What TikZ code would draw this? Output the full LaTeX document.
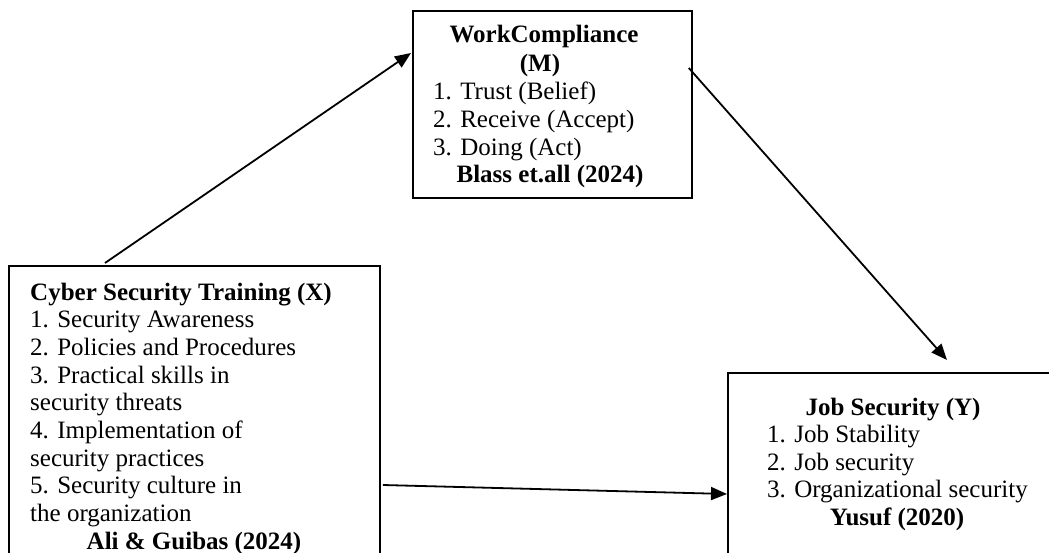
\documentclass[tikz,border=0pt]{standalone}
\usepackage{fontspec}
\setmainfont{Liberation Serif}
\usetikzlibrary{arrows.meta,calc}
\begin{document}
\begin{tikzpicture}[x=1pt,y=-1pt,
  box/.style={draw,line width=1.8pt,inner sep=0pt,anchor=north west},
  txt/.style={inner sep=0pt,font=\fontsize{25}{27.7}\selectfont},
  ttl/.style={txt,font=\fontsize{25}{27.7}\selectfont\bfseries},
  arr/.style={line width=1.8pt,-{Triangle[length=16pt,width=13pt]}}]
\useasboundingbox (0,0) rectangle (1049,553);
\clip (0,0) rectangle (1049,553);
% boxes
\node[box,minimum width=279pt,minimum height=187pt] (M) at (412,10) {};
\node[box,minimum width=371pt,minimum height=310pt] (X) at (8,265) {};
\node[box,minimum width=345pt,minimum height=220pt] (Y) at (727,372) {};
% box M text
\node[ttl,anchor=base] (m0) at (544,43) {WorkCompliance};
\node[ttl,anchor=base] (m1) at (540,72) {(M)};
\node[txt,anchor=base west] (m2) at (433,100) {1. Trust (Belief)};
\node[txt,anchor=base west] (m3) at (433,128) {2. Receive (Accept)};
\node[txt,anchor=base west] (m4) at (433,156) {3. Doing (Act)};
\node[ttl,anchor=base] (m5) at (550,183) {Blass et.all (2024)};
% box X text
\node[ttl,anchor=base west] (x0) at (30,300) {Cyber Security Training (X)};
\node[txt,anchor=base west] (x1) at (30,327.7) {1. Security Awareness};
\node[txt,anchor=base west] (x2) at (30,355.4) {2. Policies and Procedures};
\node[txt,anchor=base west] (x3) at (30,383.1) {3. Practical skills in};
\node[txt,anchor=base west] (x4) at (30,410.8) {security threats};
\node[txt,anchor=base west] (x5) at (30,438.5) {4. Implementation of};
\node[txt,anchor=base west] (x6) at (30,466.2) {security practices};
\node[txt,anchor=base west] (x7) at (30,493.9) {5. Security culture in};
\node[txt,anchor=base west] (x8) at (30,521.6) {the organization};
\node[ttl,anchor=base] (x9) at (194,549) {Ali \& Guibas (2024)};
% box Y text
\node[ttl,anchor=base] (y0) at (893,415) {Job Security (Y)};
\node[txt,anchor=base west] (y1) at (767,442) {1. Job Stability};
\node[txt,anchor=base west] (y2) at (767,470) {2. Job security};
\node[txt,anchor=base west] (y3) at (767,497) {3. Organizational security};
\node[ttl,anchor=base] (y4) at (897,525) {Yusuf (2020)};
% connector end points
\coordinate (xa) at ($(X.north west)+(97,-2)$);
\coordinate (ma) at ($(M.north west)+(-1,43)$);
\coordinate (mb) at ($(M.north east)+(-4,58)$);
\coordinate (ya) at ($(Y.north west)+(220,-12)$);
\coordinate (xb) at ($(X.north east)+(2,220)$);
\coordinate (yb) at ($(Y.north west)+(0,122)$);
\draw[arr] (xa) -- (ma);
\draw[arr] (mb) -- (ya);
\draw[arr] (xb) -- (yb);
\end{tikzpicture}
\end{document}
